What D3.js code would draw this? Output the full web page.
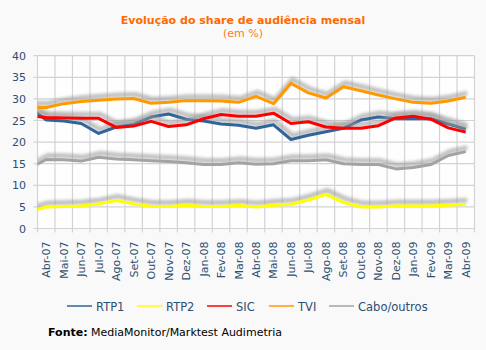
<!DOCTYPE html>
<html>
<head>
<meta charset="utf-8">
<script src="https://cdn.jsdelivr.net/npm/d3@7"></script>
<style>
  html, body { margin: 0; padding: 0; background: #f9f9f9; }
  svg { display: block; }
  .ylab, .xlab, .leg { fill: #2d4f72; font-family: "DejaVu Sans", Verdana, sans-serif; }
</style>
</head>
<body>
<svg id="chart" width="486" height="350"></svg>
<script>
// months shown on the axis
const months = ['Abr-07','Mai-07','Jun-07','Jul-07','Ago-07','Set-07','Out-07','Nov-07','Dez-07',
  'Jan-08','Fev-08','Mar-08','Abr-08','Mai-08','Jun-08','Jul-08','Ago-08','Set-08','Out-08',
  'Nov-08','Dez-08','Jan-09','Fev-09','Mar-09','Abr-09'];

// share (%) per channel
const rtp1 = [25.1, 24.9, 24.3, 22.0, 23.5, 24.1, 25.8, 26.5, 25.3, 24.9, 24.2, 23.9, 23.2, 24.0,
  20.6, 21.6, 22.4, 23.2, 25.1, 25.8, 25.4, 25.4, 25.4, 24.2, 23.0];
const rtp2 = [5.0, 5.1, 5.2, 5.7, 6.5, 5.7, 5.1, 5.1, 5.4, 5.1, 5.1, 5.3, 5.0, 5.4,
  5.6, 6.6, 7.9, 6.0, 5.0, 5.0, 5.2, 5.2, 5.2, 5.4, 5.6];
const sic  = [25.7, 25.6, 25.5, 25.5, 23.4, 23.7, 24.8, 23.6, 24.0, 25.4, 26.4, 26.0, 26.0, 26.7,
  24.3, 24.7, 23.5, 23.2, 23.2, 23.8, 25.6, 26.0, 25.3, 23.3, 22.3];
const tvi  = [28.0, 28.9, 29.4, 29.7, 30.0, 30.1, 29.0, 29.2, 29.6, 29.6, 29.5, 29.2, 30.6, 28.9,
  33.6, 31.4, 30.2, 32.8, 31.9, 30.9, 30.0, 29.2, 29.0, 29.5, 30.4];
const cabo = [16.0, 15.9, 15.6, 16.5, 16.1, 15.9, 15.7, 15.5, 15.2, 14.8, 14.8, 15.2, 14.9, 15.0,
  15.7, 15.7, 15.9, 15.0, 14.8, 14.8, 13.8, 14.1, 14.8, 16.9, 17.8];
// previous month (Mar-07), only its clipped segment shows at the left edge
const leadIn = [28.1, 3.8, 26.1, 28.0, 13.8];

const seriesNames = ['RTP1', 'RTP2', 'SIC', 'TVI', 'Cabo/outros'];
const seriesColors = ['#30659a', '#ffff00', '#ff0000', '#ff9900', '#a3a3a3'];
const yTicks = [0, 5, 10, 15, 20, 25, 30, 35, 40];

const allSeries = [rtp1, rtp2, sic, tvi, cabo];

const svg = d3.select('#chart');
const plot = {left: 37.5, right: 474.5, top: 55.7, bottom: 228.5};

const x = d3.scaleBand().domain(months).range([plot.left, plot.right]);
const bw = x.bandwidth();
const y = d3.scaleLinear().domain([0, 40]).range([plot.bottom, plot.top]);

// title
svg.append('text').attr('x', 243).attr('y', 24).attr('text-anchor', 'middle')
  .attr('fill', '#ff6a00').style('font', 'bold 11px "DejaVu Sans", Verdana, sans-serif')
  .text('Evolução do share de audiência mensal');
svg.append('text').attr('x', 243).attr('y', 37).attr('text-anchor', 'middle')
  .attr('fill', '#ff7a1a').style('font', '11px "DejaVu Sans", Verdana, sans-serif')
  .text('(em %)');

const defs = svg.append('defs');
defs.append('clipPath').attr('id', 'clip').append('rect')
  .attr('x', plot.left).attr('y', plot.top - 10)
  .attr('width', plot.right - plot.left).attr('height', plot.bottom - plot.top + 20);
defs.append('filter').attr('id', 'blur').attr('x', '-10%').attr('y', '-50%')
  .attr('width', '120%').attr('height', '200%')
  .append('feGaussianBlur').attr('stdDeviation', 1.7);

// plot background
svg.append('rect').attr('x', plot.left).attr('y', plot.top)
  .attr('width', plot.right - plot.left).attr('height', plot.bottom - plot.top)
  .attr('fill', '#fefefe');

// grid
const grid = svg.append('g').attr('stroke', '#d3d3d3').attr('stroke-width', 1.2);
yTicks.forEach(t => {
  grid.append('line').attr('x1', plot.left - 4).attr('x2', plot.right)
    .attr('y1', y(t)).attr('y2', y(t));
});
d3.range(months.length + 1).forEach(i => {
  const gx = plot.left + i * bw;
  grid.append('line').attr('x1', gx).attr('x2', gx)
    .attr('y1', plot.top).attr('y2', plot.bottom + 4);
});

// y labels
svg.selectAll('.ylab').data(yTicks).enter().append('text').attr('class', 'ylab')
  .attr('x', 26).attr('y', d => y(d) + 4).attr('text-anchor', 'end')
  .style('font-size', '11px').text(d => d);

// x labels
svg.selectAll('.xlab').data(months).enter().append('text').attr('class', 'xlab')
  .attr('text-anchor', 'end')
  .attr('transform', d => 'translate(' + (x(d) + bw / 2 + 4) + ',' + (plot.bottom + 13) + ')rotate(-90)')
  .style('font-size', '11px').text(d => d);

// lines
const line = d3.line().x(d => d.x).y(d => y(d.v));
const lines = svg.append('g').attr('clip-path', 'url(#clip)');
allSeries.forEach((vals, s) => {
  const pts = [{x: x(months[0]) + bw / 2 - bw, v: leadIn[s]}]
    .concat(vals.map((v, i) => ({x: x(months[i]) + bw / 2, v: v})));
  lines.append('path').attr('d', line(pts)).attr('fill', 'none')
    .attr('stroke', '#9a9a9a').attr('stroke-width', 5).attr('stroke-opacity', 0.6)
    .attr('stroke-linejoin', 'round').attr('filter', 'url(#blur)')
    .attr('transform', 'translate(1.5,-4)');
  lines.append('path').attr('d', line(pts)).attr('fill', 'none')
    .attr('stroke', seriesColors[s]).attr('stroke-width', 3)
    .attr('stroke-linejoin', 'round');
});

// legend
const legX = [67, 137, 207, 269, 329];
const leg = svg.append('g');
seriesNames.forEach((n, i) => {
  leg.append('line').attr('x1', legX[i]).attr('x2', legX[i] + 25)
    .attr('y1', 306).attr('y2', 306).attr('stroke', seriesColors[i]).attr('stroke-width', 1.5);
  leg.append('text').attr('class', 'leg').attr('x', legX[i] + 29).attr('y', 310.5)
    .style('font-size', '11.5px').text(n);
});

// source
const src = svg.append('text').attr('x', 48).attr('y', 336)
  .style('font', '11px "DejaVu Sans", Verdana, sans-serif').attr('fill', '#000');
src.append('tspan').style('font-weight', 'bold').text('Fonte:');
src.append('tspan').text(' MediaMonitor/Marktest Audimetria');
</script>
</body>
</html>
